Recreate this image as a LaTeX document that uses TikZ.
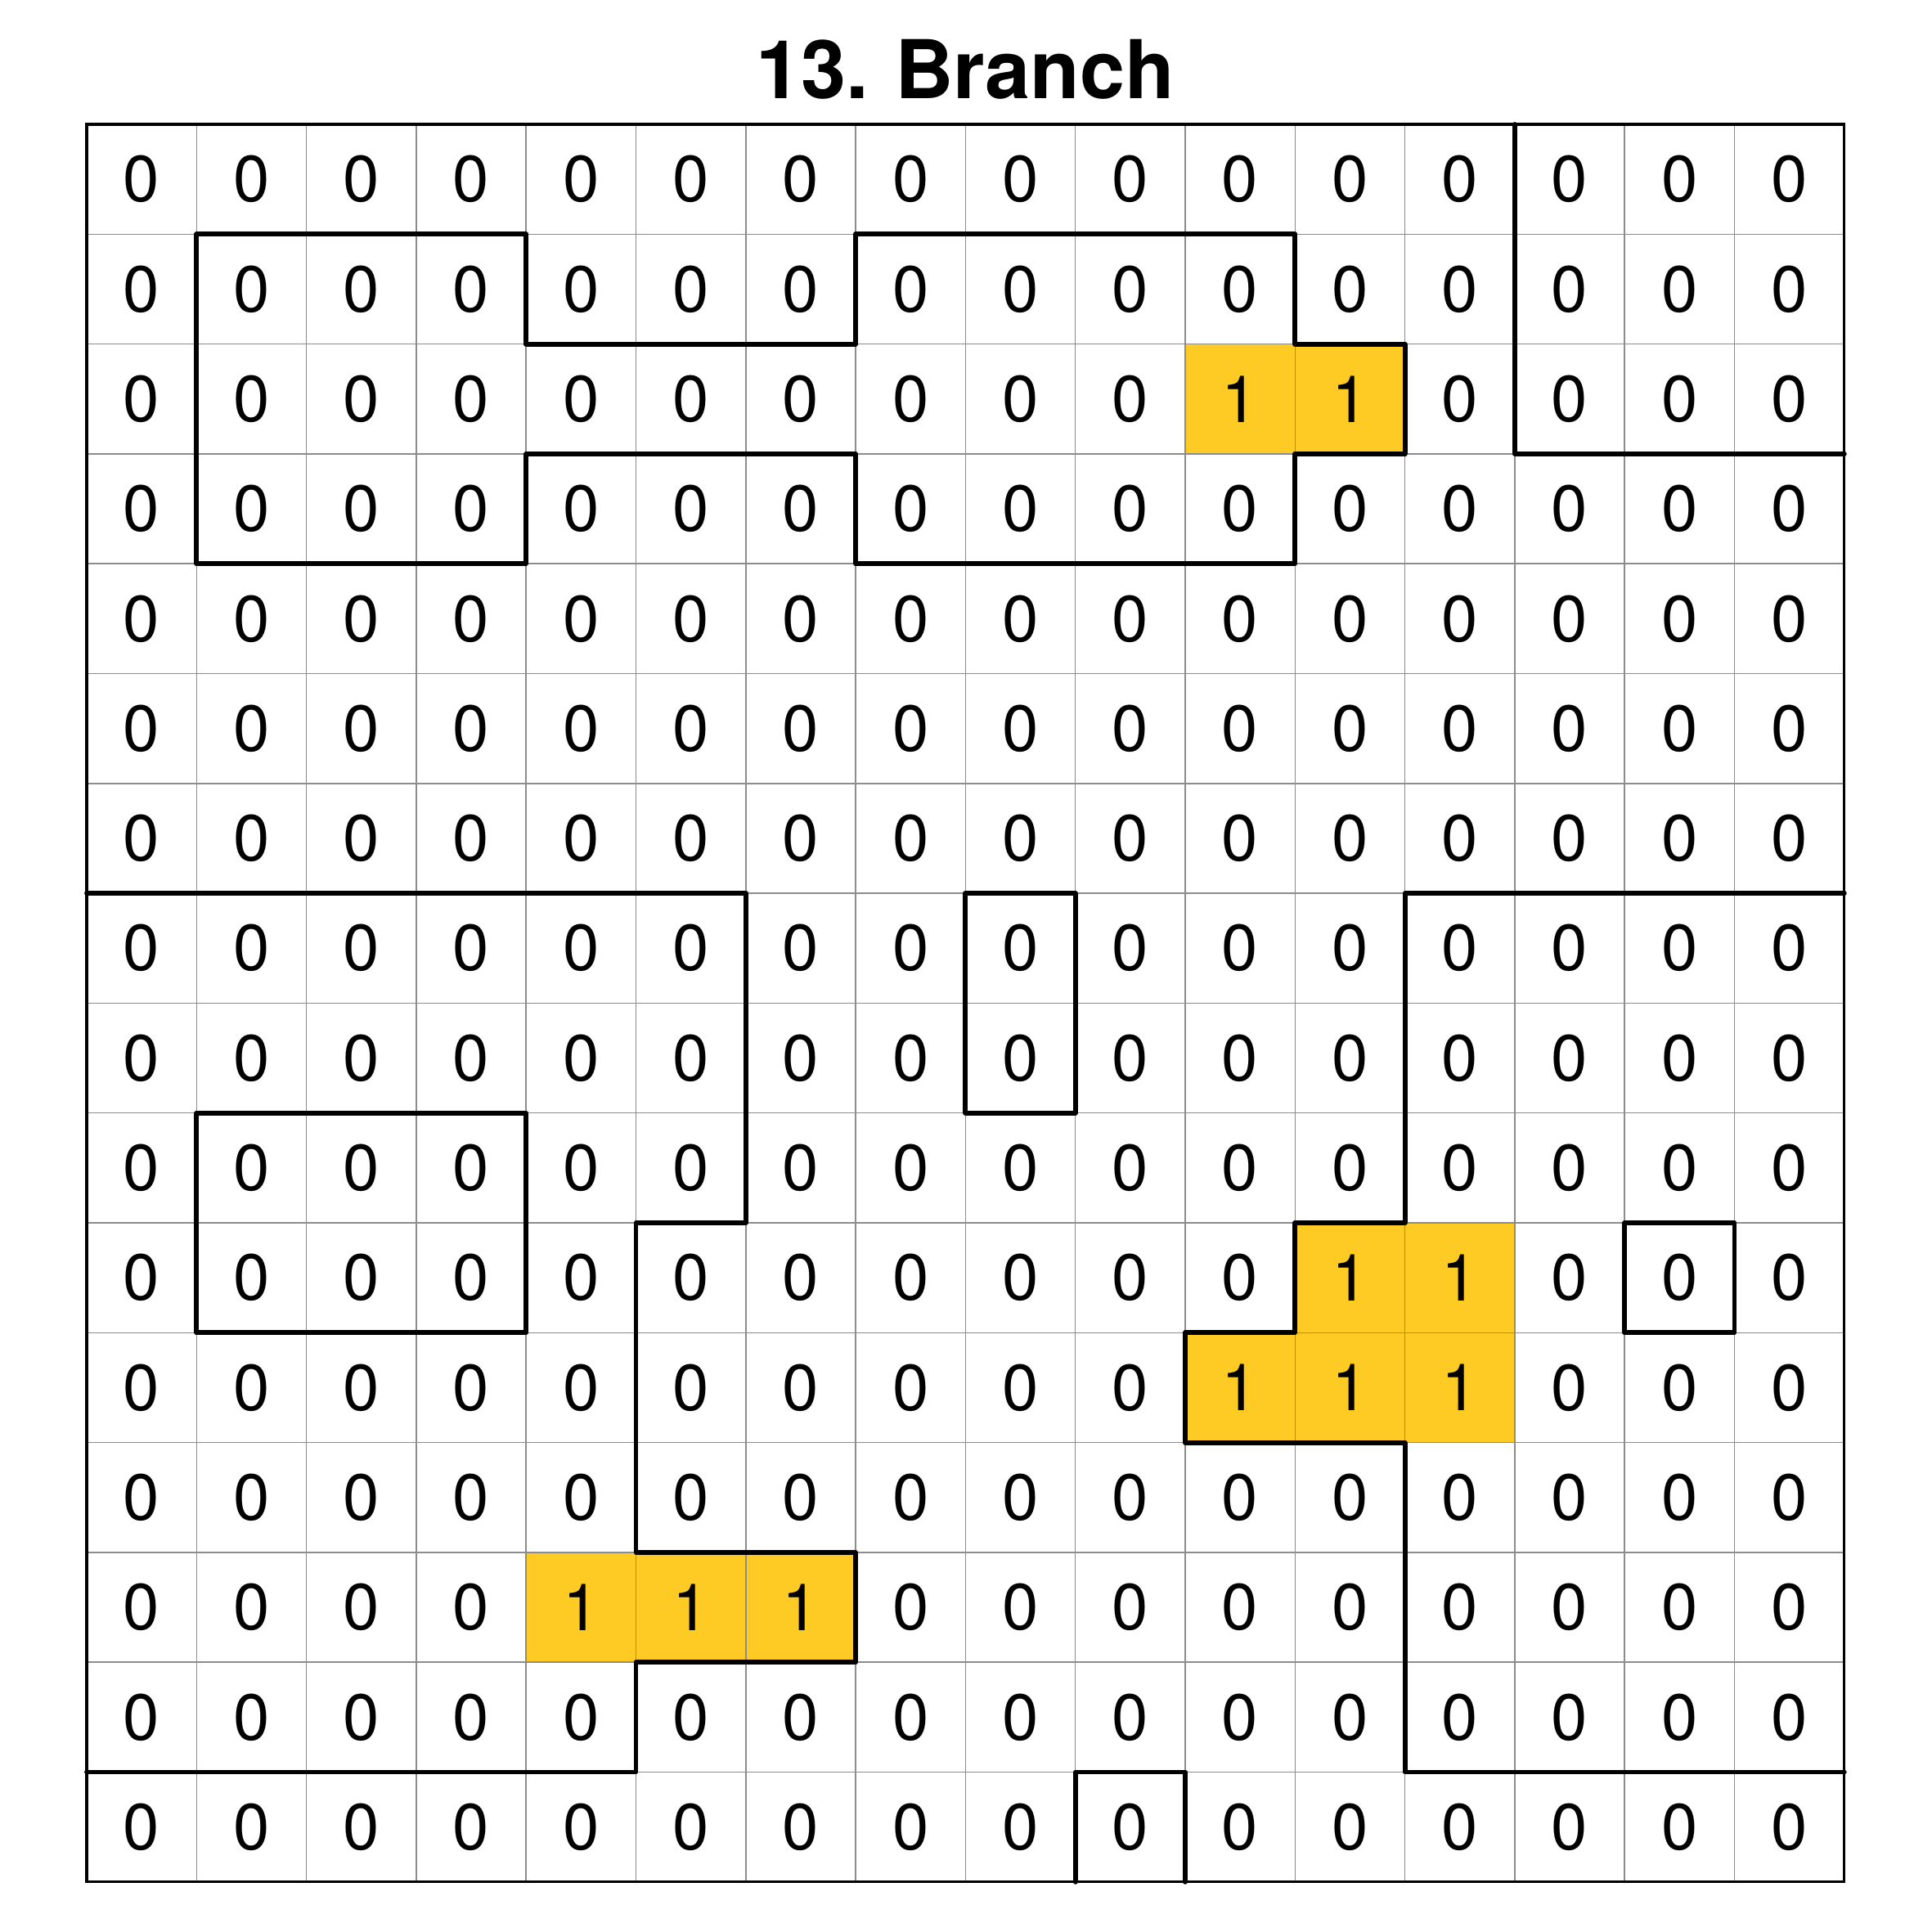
\documentclass[tikz,border=0pt]{standalone}
\usepackage{fontspec}
\setmainfont{TeX Gyre Heros}
\definecolor{cellyellow}{HTML}{FDCB24}
\definecolor{gridgray}{HTML}{8C8C8C}
\begin{document}
\begin{tikzpicture}[x=1cm,y=-1cm,
  gridline/.style={draw=gridgray,line width=0.3pt},
  region/.style={draw=black,line width=1.25pt,line join=round,line cap=round},
  border/.style={draw=black,line width=0.65pt},
  num/.style={inner sep=0pt,font=\fontsize{16.9}{20}\selectfont},
  titletext/.style={font=\fontsize{21}{25}\selectfont\bfseries}]
\useasboundingbox (-0.7893,-1.1318) rectangle (16.7983,16.4559);
% yellow cells
\foreach \c/\r in {10/2,11/2,11/10,12/10,10/11,11/11,12/11,4/13,5/13,6/13}{
  \fill[cellyellow] (\c,\r) rectangle ++(1,1);
  \expandafter\gdef\csname one-\c-\r\endcsname{}
}
% grid
\draw[gridline] (0,0) grid (16,16);
% numbers
\foreach \r in {0,...,15}{
  \foreach \c in {0,...,15}{
    \node[num] (n-\r-\c) at (\c+0.5,\r+0.5) {\ifcsname one-\c-\r\endcsname 1\else 0\fi};
  }
}
% region boundaries
\draw[region] (13,0) -- (13,3) -- (16,3);
\draw[region] (1,1) -- (4,1) -- (4,2) -- (7,2) -- (7,1) -- (11,1) -- (11,2) -- (12,2) -- (12,3) -- (11,3) -- (11,4) -- (7,4) -- (7,3) -- (4,3) -- (4,4) -- (1,4) -- cycle;
\draw[region] (0,7) -- (6,7) -- (6,10) -- (5,10) -- (5,13) -- (7,13) -- (7,14) -- (5,14) -- (5,15) -- (0,15);
\draw[region] (8,7) rectangle (9,9);
\draw[region] (1,9) rectangle (4,11);
\draw[region] (16,7) -- (12,7) -- (12,10) -- (11,10) -- (11,11) -- (10,11) -- (10,12) -- (12,12) -- (12,15) -- (16,15);
\draw[region] (14,10) rectangle (15,11);
\draw[region] (9,16) -- (9,15) -- (10,15) -- (10,16);
% outer border
\draw[border] (0,0) rectangle (16,16);
% title
\node[titletext,anchor=base,inner sep=0pt] (title) at (8,-0.231) {13.\kern-0.05em{} Branch};
\end{tikzpicture}
\end{document}
